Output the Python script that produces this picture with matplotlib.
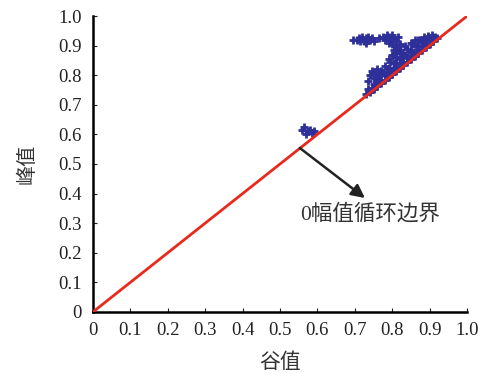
import matplotlib
matplotlib.use('Agg')
import matplotlib.pyplot as plt
import numpy as np

plt.rcParams['font.family'] = ['Liberation Serif', 'Noto Sans CJK SC']

# 谷值 (x) / 峰值 (y) of the cycles
# band sitting on the boundary line
band_x = [0.73, 0.74, 0.75, 0.76, 0.77, 0.78, 0.79, 0.80, 0.81, 0.82,
          0.83, 0.84, 0.85, 0.86, 0.87, 0.88, 0.89, 0.90, 0.91, 0.92,
          0.735, 0.75, 0.765, 0.78, 0.795, 0.81, 0.825, 0.84, 0.855, 0.87,
          0.885, 0.90, 0.915,
          0.76, 0.775, 0.79, 0.805, 0.82, 0.835, 0.85, 0.865, 0.88, 0.895, 0.905,
          0.78, 0.795, 0.81, 0.825, 0.84, 0.855, 0.87, 0.885,
          0.79, 0.805, 0.82, 0.835, 0.85, 0.86,
          0.745, 0.765, 0.785, 0.805, 0.825, 0.845, 0.865, 0.885, 0.905,
          0.77, 0.79, 0.81, 0.83, 0.85, 0.87, 0.89, 0.91, 0.875, 0.895]
band_y = [0.735, 0.745, 0.755, 0.765, 0.775, 0.785, 0.795, 0.805, 0.815, 0.825,
          0.835, 0.845, 0.855, 0.865, 0.875, 0.885, 0.895, 0.905, 0.915, 0.925,
          0.755, 0.77, 0.785, 0.80, 0.815, 0.83, 0.845, 0.86, 0.875, 0.89,
          0.905, 0.92, 0.93,
          0.795, 0.81, 0.825, 0.84, 0.855, 0.87, 0.885, 0.90, 0.915, 0.928, 0.935,
          0.83, 0.845, 0.86, 0.875, 0.89, 0.905, 0.92, 0.93,
          0.855, 0.87, 0.885, 0.90, 0.91, 0.92,
          0.758, 0.778, 0.798, 0.818, 0.838, 0.858, 0.878, 0.898, 0.918,
          0.80, 0.82, 0.84, 0.86, 0.88, 0.90, 0.915, 0.925, 0.92, 0.932]
# lower bump on the band
bump_x = [0.735, 0.74, 0.745, 0.75, 0.755, 0.76, 0.765, 0.77]
bump_y = [0.78, 0.80, 0.815, 0.79, 0.805, 0.82, 0.80, 0.815]
# upper-left blob
blob1_x = [0.695, 0.705, 0.71, 0.72, 0.725, 0.73, 0.735, 0.74, 0.745, 0.75, 0.715, 0.73]
blob1_y = [0.92, 0.92, 0.925, 0.93, 0.915, 0.925, 0.93, 0.92, 0.925, 0.915, 0.915, 0.91]
# upper-middle blob and its neck into the band
blob2_x = [0.765, 0.775, 0.78, 0.785, 0.79, 0.795, 0.80, 0.805, 0.81, 0.815, 0.82,
           0.79, 0.80, 0.80, 0.805, 0.81, 0.815, 0.82, 0.81]
blob2_y = [0.925, 0.93, 0.92, 0.935, 0.93, 0.92, 0.935, 0.925, 0.915, 0.93, 0.905,
           0.91, 0.905, 0.87, 0.885, 0.875, 0.89, 0.88, 0.90]
# small group near 0.6
low_x = [0.56, 0.565, 0.575, 0.585, 0.58, 0.59, 0.57]
low_y = [0.615, 0.625, 0.61, 0.605, 0.615, 0.61, 0.60]

boundary = [0, 1]
ticks = [0, 0.1, 0.2, 0.3, 0.4, 0.5, 0.6, 0.7, 0.8, 0.9, 1.0]
tick_labels = ['0', '0.1', '0.2', '0.3', '0.4', '0.5', '0.6', '0.7', '0.8', '0.9', '1.0']

fig = plt.figure(figsize=(4.83, 3.74), dpi=100)
ax = fig.add_axes([0.1925, 0.166, 0.7745, 0.791])

pt_style = dict(linestyle='none', marker='+', markersize=6, markeredgewidth=2,
                color='#2e2f98', zorder=2)
for xs, ys in [(band_x, band_y), (bump_x, bump_y), (blob1_x, blob1_y),
               (blob2_x, blob2_y), (low_x, low_y)]:
    ax.plot(xs, ys, **pt_style)
ax.plot(boundary, boundary, color='#e8291c', linewidth=2, zorder=3)

ax.set_xlim(0, 1)
ax.set_ylim(0, 1)
ax.set_xticks(ticks)
ax.set_yticks(ticks)
ax.set_xticklabels(tick_labels)
ax.set_yticklabels(tick_labels)
ax.tick_params(direction='in', length=3, width=0.8, labelsize=13.5, colors='#222222')
ax.tick_params(axis='x', pad=7)
ax.tick_params(axis='y', pad=8)

for side in ['top', 'right']:
    ax.spines[side].set_visible(False)
for side in ['left', 'bottom']:
    ax.spines[side].set_linewidth(1.8)

ax.set_xlabel('谷值', fontsize=15, family=['Noto Sans CJK SC'], color='#333333', labelpad=9)
ax.set_ylabel('峰值', fontsize=14.5, family=['Noto Sans CJK SC'], color='#333333', labelpad=15)

ax.annotate('', xy=(0.727, 0.385), xytext=(0.553, 0.554),
            arrowprops=dict(arrowstyle='-|>', color='#222222', lw=1.8,
                            mutation_scale=20, shrinkA=0, shrinkB=0))
ax.text(0.74, 0.33, '0幅值循环边界', fontsize=15.5, ha='center', va='center',
        family=['Liberation Serif', 'Noto Sans CJK SC'], color='#333333')

plt.savefig('out.png', dpi=100)
